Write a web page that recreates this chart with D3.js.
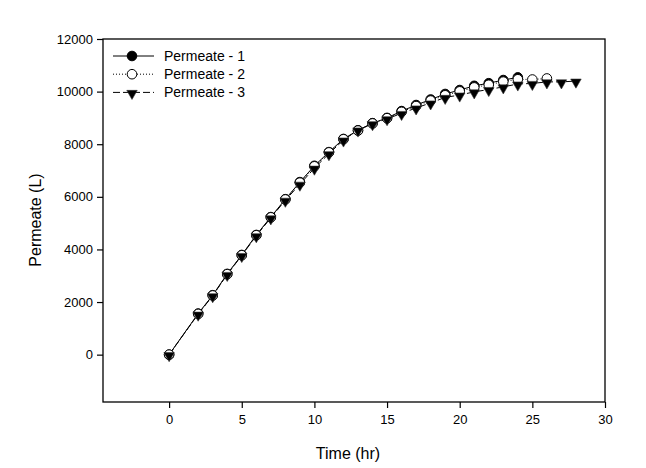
<!DOCTYPE html>
<html>
<head>
<meta charset="utf-8">
<script src="https://cdn.jsdelivr.net/npm/d3@7"></script>
<style>
  body { margin: 0; background: #fff; }
  text { font-family: Arial, "Liberation Sans", sans-serif; fill: #000; }
</style>
</head>
<body>
<svg id="grafiek" width="646" height="468"></svg>
<script>
// tijdstippen (hr) per reeks
var tijd1 = [0, 2, 3, 4, 5, 6, 7, 8, 9, 10, 11, 12, 13, 14, 15, 16, 17, 18, 19, 20, 21, 22, 23, 24];
var tijd2 = [0, 2, 3, 4, 5, 6, 7, 8, 9, 10, 11, 12, 13, 14, 15, 16, 17, 18, 19, 20, 21, 22, 23, 24, 25, 26];
var tijd3 = [0, 2, 3, 4, 5, 6, 7, 8, 9, 10, 11, 12, 13, 14, 15, 16, 17, 18, 19, 20, 21, 22, 23, 24, 25, 26, 27, 28];

// permeaat (L)
var permeaat1 = [0, 1560, 2260, 3070, 3790, 4550, 5230, 5910, 6560, 7180, 7700, 8200, 8530, 8800, 9000, 9260, 9490, 9700, 9910, 10060, 10220, 10320, 10440, 10540];
var permeaat2 = [0, 1550, 2250, 3060, 3780, 4540, 5220, 5900, 6540, 7160, 7690, 8190, 8520, 8790, 8990, 9230, 9450, 9660, 9860, 10010, 10160, 10260, 10380, 10470, 10460, 10500];
var permeaat3 = [0, 1540, 2240, 3050, 3770, 4520, 5200, 5870, 6480, 7090, 7640, 8160, 8540, 8780, 8970, 9170, 9380, 9570, 9780, 9870, 9990, 10080, 10180, 10290, 10310, 10370, 10370, 10400];

var reeksNamen = ["Permeate - 1", "Permeate - 2", "Permeate - 3"];
var xTicks = [0, 5, 10, 15, 20, 25, 30];
var yTicks = [0, 2000, 4000, 6000, 8000, 10000, 12000];

// plotgebied
var links = 103, rechts = 605, boven = 39, onder = 402;

//schalen
var xScale = d3.scaleLinear().domain([-4.55, 30]).range([links, rechts]);
var yScale = d3.scaleLinear().domain([-1800, 12000]).range([onder, boven]);

var svg = d3.select('#grafiek');

// kader
svg.append('rect')
    .attr('x', links).attr('y', boven)
    .attr('width', rechts - links).attr('height', onder - boven)
    .attr('fill', 'none').attr('stroke', '#000').attr('stroke-width', 1.3);

// assen
var xAs = svg.append('g')
    .attr('transform', 'translate(0,' + onder + ')')
    .call(d3.axisBottom(xScale).tickValues(xTicks).tickSize(6).tickPadding(7));
var yAs = svg.append('g')
    .attr('transform', 'translate(' + links + ',0)')
    .call(d3.axisLeft(yScale).tickValues(yTicks).tickSize(6).tickPadding(4).tickFormat(d3.format('d')));

[xAs, yAs].forEach(function (as) {
    as.select('.domain').remove();
    as.selectAll('line').attr('stroke', '#000').attr('stroke-width', 1.2);
    as.selectAll('text').style('font-size', '13px').style('font-family', 'Arial, "Liberation Sans", sans-serif');
});

// as titels
svg.append('text')
    .attr('x', (links + rechts) / 2 - 6).attr('y', 459)
    .attr('text-anchor', 'middle').style('font-size', '16px')
    .text('Time (hr)');
svg.append('text')
    .attr('transform', 'translate(41,' + 220 + ') rotate(-90)')
    .attr('text-anchor', 'middle').style('font-size', '16px')
    .text('Permeate (L)');

var reeksen = [
    { naam: reeksNamen[0], x: tijd1, y: permeaat1, dash: null, symbool: 'cirkelVol' },
    { naam: reeksNamen[1], x: tijd2, y: permeaat2, dash: '1,2', symbool: 'cirkelOpen' },
    { naam: reeksNamen[2], x: tijd3, y: permeaat3, dash: '7,3', symbool: 'driehoek' }
];

var lijn = d3.line()
    .x(function (d) { return xScale(d[0]); })
    .y(function (d) { return yScale(d[1]); });

function tekenSymbool(g, soort) {
    if (soort === 'driehoek') {
        g.append('path')
            .attr('d', d3.symbol().type(d3.symbolTriangle).size(48)())
            .attr('transform', 'rotate(180) translate(0,-1)')
            .attr('fill', '#000').attr('stroke', '#333').attr('stroke-width', 0.6);
    } else {
        g.append('circle')
            .attr('r', 4.8)
            .attr('fill', soort === 'cirkelVol' ? '#000' : '#fff')
            .attr('stroke', '#000').attr('stroke-width', 1);
    }
}

// lijnen
reeksen.forEach(function (r) {
    var punten = r.x.map(function (t, i) { return [t, r.y[i]]; });
    svg.append('path')
        .datum(punten)
        .attr('d', lijn)
        .attr('fill', 'none').attr('stroke', '#000').attr('stroke-width', 1)
        .attr('stroke-dasharray', r.dash);
});

// punten
reeksen.forEach(function (r) {
    var punten = r.x.map(function (t, i) { return [t, r.y[i]]; });
    svg.append('g')
        .selectAll('g')
        .data(punten)
        .join('g')
        .attr('transform', function (d) { return 'translate(' + xScale(d[0]) + ',' + yScale(d[1]) + ')'; })
        .each(function () { tekenSymbool(d3.select(this), r.symbool); });
});

// legenda
var legenda = svg.append('g');
reeksen.forEach(function (r, i) {
    var y = 56 + i * 18.2;
    legenda.append('line')
        .attr('x1', 113).attr('x2', 154).attr('y1', y).attr('y2', y)
        .attr('stroke', '#000').attr('stroke-width', 1)
        .attr('stroke-dasharray', r.dash);
    var m = legenda.append('g').attr('transform', 'translate(132,' + y + ')');
    tekenSymbool(m, r.symbool);
    legenda.append('text')
        .attr('x', 164).attr('y', y + 5)
        .style('font-size', '14px')
        .text(r.naam);
});
</script>
</body>
</html>
